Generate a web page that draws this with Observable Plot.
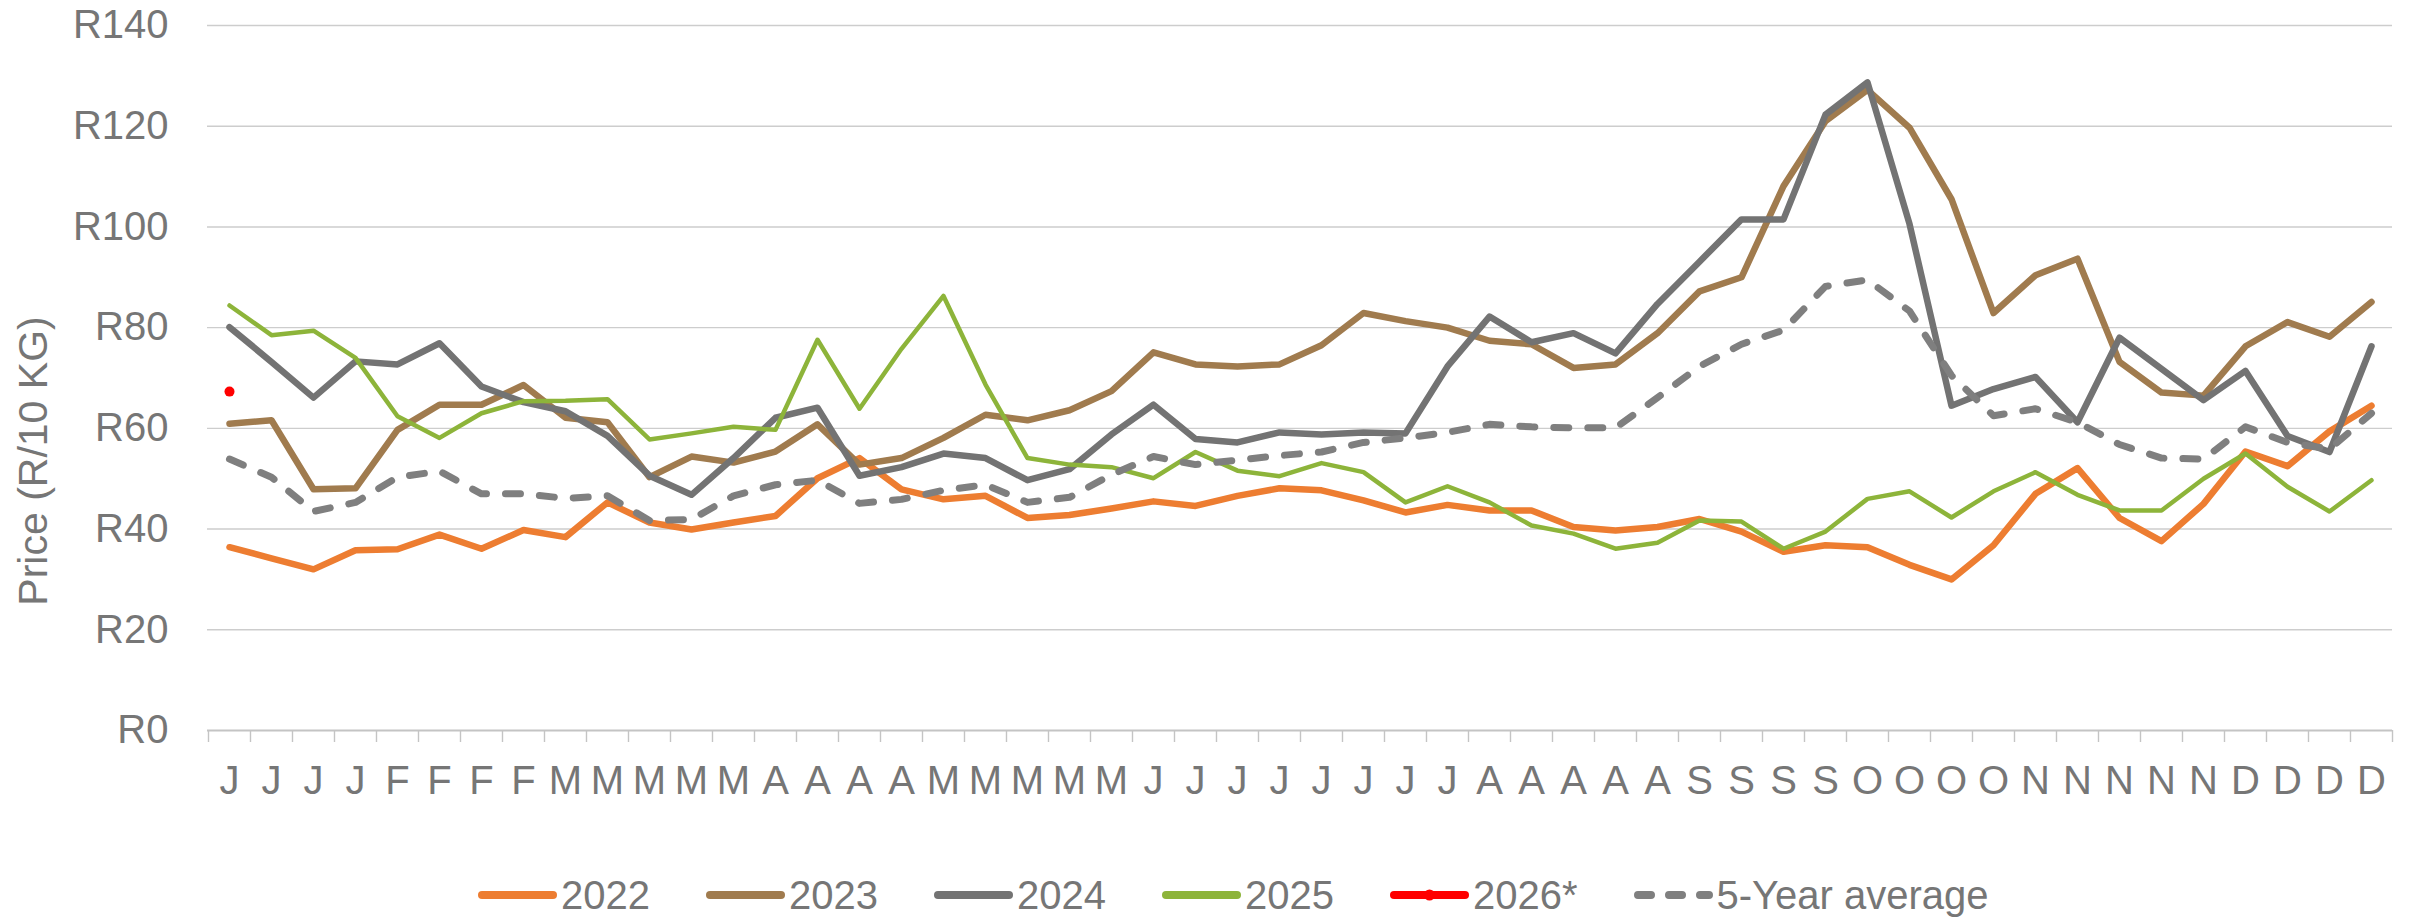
<!DOCTYPE html>
<html>
<head>
<meta charset="utf-8">
<script src="https://cdn.jsdelivr.net/npm/d3@7"></script>
<script src="https://cdn.jsdelivr.net/npm/@observablehq/plot@0.6"></script>
<style>
  html, body { margin: 0; padding: 0; background: #fff; }
  #wrap { position: relative; width: 2415px; height: 921px; font-family: "Liberation Sans", Arial, sans-serif; }
  #legend { position: absolute; left: 478px; top: 872px; height: 46px; display: flex; align-items: center; gap: 56px; color: #767676; font-size: 40px; }
  .item { display: flex; align-items: center; }
  .item svg { margin-right: 4px; }
  .item span { line-height: 46px; }
</style>
</head>
<body>
<div id="wrap"><div id="chart"></div><div id="legend"></div></div>
<script>
// Week tick labels (month initials)
const weekLabels = ["J","J","J","J","F","F","F","F","M","M","M","M","M","A","A","A","A","M","M","M","M","M","J","J","J","J","J","J","J","J","A","A","A","A","A","S","S","S","S","O","O","O","O","N","N","N","N","N","D","D","D","D"];

// Prices, R/10 kg
const v2022 = [36.4,34.2,32.0,35.8,36.0,38.9,36.1,39.8,38.4,45.3,41.3,39.9,41.3,42.6,50.1,54.1,47.9,45.9,46.6,42.2,42.8,44.1,45.5,44.6,46.6,48.1,47.7,45.7,43.3,44.8,43.7,43.7,40.4,39.7,40.4,42.0,39.5,35.5,36.8,36.4,32.9,30.0,36.8,47.0,52.1,42.2,37.6,45.0,55.4,52.5,59.4,64.5];
const v2023 = [60.9,61.6,47.9,48.1,59.7,64.7,64.7,68.6,62.1,61.2,50.3,54.4,53.2,55.4,60.8,52.8,54.1,58.1,62.7,61.6,63.6,67.4,75.1,72.7,72.3,72.7,76.5,82.9,81.3,80.0,77.4,76.7,72.0,72.7,78.9,87.2,90.0,108.1,121.0,127.2,119.7,105.5,82.9,90.4,93.7,73.2,67.1,66.5,76.3,81.1,78.2,85.1];
const v2024 = [80.1,73.2,66.1,73.3,72.7,76.9,68.3,65.2,63.4,58.5,50.6,46.8,54.1,62.1,64.1,50.6,52.3,55.0,54.1,49.7,51.9,58.8,64.7,57.9,57.2,59.2,58.8,59.2,59.0,72.3,82.2,77.1,78.9,74.9,84.7,93.1,101.5,101.5,122.3,128.7,100.6,64.5,67.8,70.2,61.2,78.0,71.8,65.6,71.4,58.5,55.3,76.3];
const v2025 = [84.4,78.5,79.4,74.0,62.4,58.1,63.0,65.4,65.5,65.8,57.8,59.0,60.3,59.7,77.6,63.9,75.8,86.3,68.7,54.1,52.8,52.3,50.1,55.3,51.6,50.5,53.1,51.3,45.3,48.5,45.3,40.7,39.1,36.1,37.3,41.7,41.5,36.1,39.5,46.0,47.5,42.3,47.5,51.3,46.8,43.7,43.7,50.0,55.0,48.4,43.5,49.7];
const v2026 = [67.3];
const avg5 = [53.9,50.3,43.5,45.3,50.3,51.5,47.0,47.0,46.1,46.6,41.7,41.9,46.6,48.8,49.7,45.1,45.9,47.7,48.8,45.3,46.3,50.8,54.4,52.8,53.7,54.6,55.3,57.2,58.1,59.2,60.8,60.3,60.1,60.1,66.1,72.3,76.7,79.5,88.2,89.5,83.3,70.5,62.5,63.9,61.2,56.8,54.1,53.9,60.3,57.2,55.9,63.0];
const yTicks = [0,20,40,60,80,100,120,140];
const yTitle = "Price (R/10 KG)";

const seriesNames = ["2022","2023","2024","2025","2026*","5-Year average"];
const colors = ["#ED7D31","#A07B4E","#737373","#8DB43A","#FF0000","#7F7F7F"];

const toRows = (arr) => arr.map((v, i) => ({i, v}));
const idx = weekLabels.map((_, i) => i);

const W = 2415, H = 830, ML = 207, MR = 23, MT = 25, MB = 100;
const half = (W - ML - MR) / weekLabels.length / 2;

const chart = Plot.plot({
  width: W, height: H,
  marginLeft: ML, marginRight: MR, marginTop: MT, marginBottom: MB,
  style: {fontFamily: '"Liberation Sans", Arial, sans-serif', fontSize: "40px", color: "#767676", background: "#fff"},
  x: {type: "point", domain: idx, padding: 0.5},
  y: {domain: [0, 140]},
  marks: [
    Plot.ruleY(yTicks.filter(d => d > 0), {stroke: "#CDCDCD", strokeWidth: 1.4}),
    Plot.ruleY([0], {stroke: "#C4C4C4", strokeWidth: 2}),
    Plot.ruleX(idx, {x: d => d, y1: 0, y2: 0, dx: -half, insetBottom: -12, stroke: "#C4C4C4", strokeWidth: 1.4}),
    Plot.ruleX([idx[idx.length - 1]], {x: d => d, y1: 0, y2: 0, dx: half, insetBottom: -12, stroke: "#C4C4C4", strokeWidth: 1.4}),
    Plot.axisY({ticks: yTicks, tickSize: 0, tickPadding: 39, tickFormat: d => "R" + d, fontSize: 40, label: null}),
    Plot.axisX({ticks: idx, tickSize: 0, tickPadding: 35, tickFormat: i => weekLabels[i], fontSize: 40, label: null}),
    Plot.line(toRows(v2022), {x: "i", y: "v", stroke: colors[0], strokeWidth: 6.5}),
    Plot.line(toRows(v2023), {x: "i", y: "v", stroke: colors[1], strokeWidth: 6.5}),
    Plot.line(toRows(v2024), {x: "i", y: "v", stroke: colors[2], strokeWidth: 6.5}),
    Plot.line(toRows(v2025), {x: "i", y: "v", stroke: colors[3], strokeWidth: 4.5}),
    Plot.dot(toRows(v2026), {x: "i", y: "v", fill: colors[4], r: 5}),
    Plot.line(toRows(avg5), {x: "i", y: "v", stroke: colors[5], strokeWidth: 7, strokeDasharray: "15,19", strokeLinecap: "round"})
  ]
});
document.getElementById("chart").appendChild(chart);

// Y-axis title
d3.select(chart).append("text")
  .attr("transform", "translate(33,461) rotate(-90)")
  .attr("text-anchor", "middle")
  .attr("dominant-baseline", "central")
  .attr("fill", "#767676")
  .attr("font-size", 41)
  .attr("font-family", '"Liberation Sans", Arial, sans-serif')
  .text(yTitle);

// Legend
const legend = d3.select("#legend");
seriesNames.forEach((name, k) => {
  const item = legend.append("div").attr("class", "item");
  const s = item.append("svg").attr("width", 79).attr("height", 20);
  const line = s.append("line").attr("x1", 4).attr("x2", 75).attr("y1", 10).attr("y2", 10)
    .attr("stroke", colors[k]).attr("stroke-width", 8).attr("stroke-linecap", "round");
  if (k === 5) line.attr("stroke-dasharray", "13,18");
  if (k === 4) s.append("circle").attr("cx", 39.5).attr("cy", 10).attr("r", 5.5).attr("fill", colors[k]);
  item.append("span").text(name);
});
</script>
</body>
</html>
